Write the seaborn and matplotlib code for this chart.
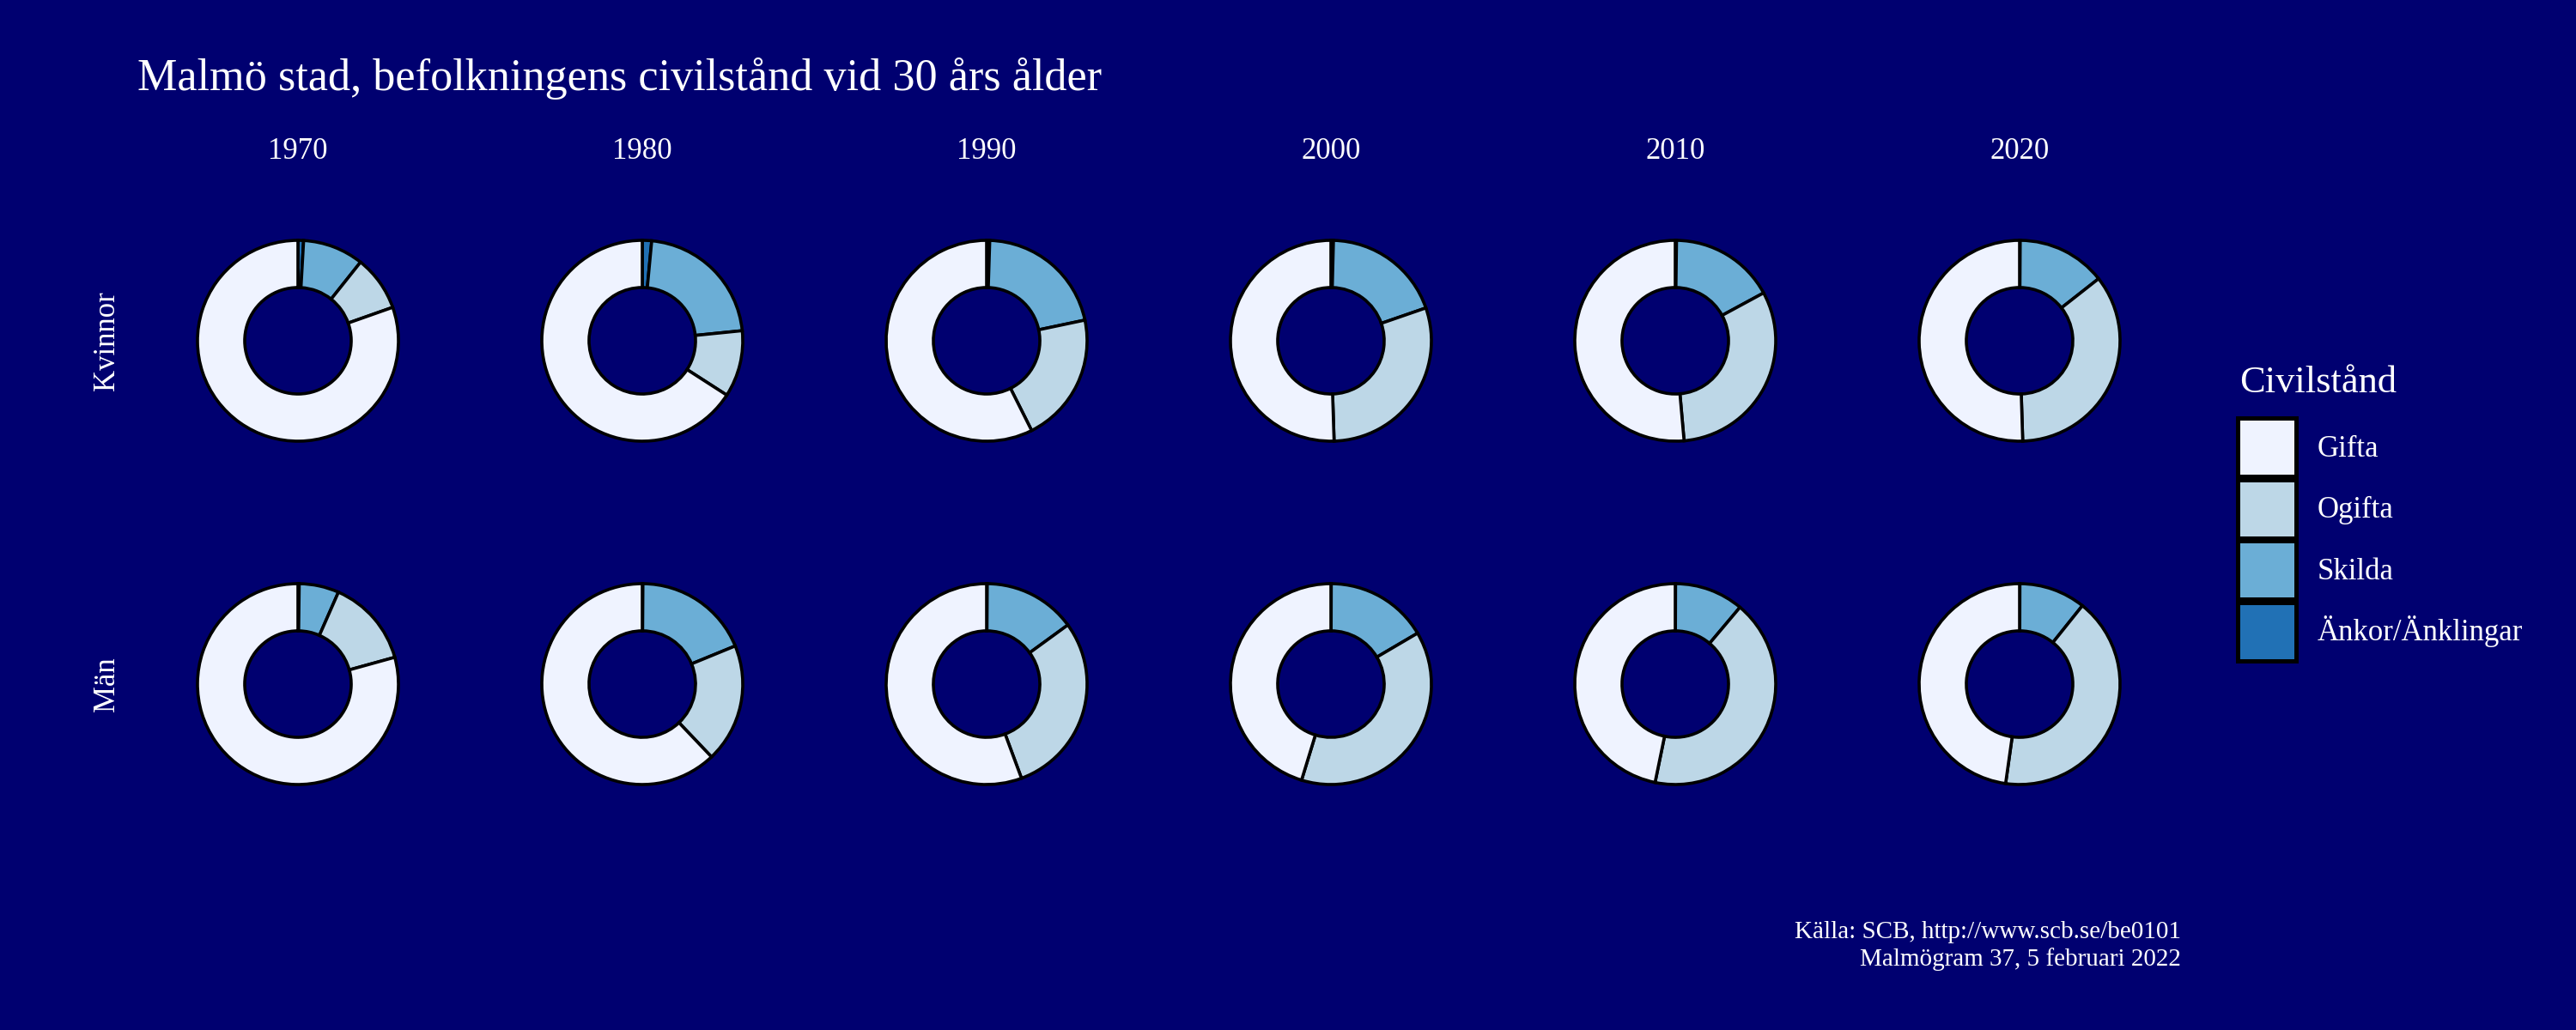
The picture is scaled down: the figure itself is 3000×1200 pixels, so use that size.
import numpy as np
import pandas as pd
import matplotlib
matplotlib.use("Agg")
import matplotlib.pyplot as plt
from matplotlib.patches import Patch
import seaborn as sns

# data (andel i procent)
years = [1970, 1980, 1990, 2000, 2010, 2020]
kategorier = ["Gifta", "Ogifta", "Skilda", "Änkor/Änklingar"]
kvinnor_gifta = [80.4, 65.9, 57.4, 50.5, 51.4, 50.5]
kvinnor_ogifta = [8.9, 10.7, 20.9, 29.8, 31.5, 35.1]
kvinnor_skilda = [9.8, 21.9, 21.2, 19.3, 16.9, 14.3]
kvinnor_ankor = [0.9, 1.5, 0.5, 0.4, 0.2, 0.1]
man_gifta = [79.3, 62.1, 55.7, 45.3, 46.8, 47.8]
man_ogifta = [14.1, 19.1, 29.4, 38.2, 42.1, 41.5]
man_skilda = [6.4, 18.7, 14.9, 16.5, 11.1, 10.7]
man_ankor = [0.2, 0.1, 0.1, 0.05, 0.05, 0.05]
kon = ["Kvinnor", "Män"]

rows = []
for i, y in enumerate(years):
    for k, vals in zip(kategorier, [kvinnor_gifta, kvinnor_ogifta, kvinnor_skilda, kvinnor_ankor]):
        rows.append(("Kvinnor", y, k, vals[i]))
    for k, vals in zip(kategorier, [man_gifta, man_ogifta, man_skilda, man_ankor]):
        rows.append(("Män", y, k, vals[i]))
df = pd.DataFrame(rows, columns=["kon", "ar", "civilstand", "andel"])

bg = "#000070"
sns.set_theme(style="white", rc={"figure.facecolor": bg, "axes.facecolor": bg,
                                 "savefig.facecolor": bg})
plt.rcParams["font.family"] = ["Liberation Serif", "DejaVu Serif"]
farger = sns.color_palette(["#eff3ff", "#bdd7e7", "#6baed6", "#2171b5"])
fargmap = dict(zip(kategorier, farger))

W, H = 3000, 1200
fig = plt.figure(figsize=(15, 6), dpi=200)

# ritordning medurs från kl 12: Änkor, Skilda, Ogifta, Gifta
ordning = ["Änkor/Änklingar", "Skilda", "Ogifta", "Gifta"]
cx0, dx = 347, 401
cy = [397, 797]
half = 150
for r, k in enumerate(kon):
    for c, y in enumerate(years):
        sub = df[(df.kon == k) & (df.ar == y)].set_index("civilstand").loc[ordning]
        x = cx0 + c * dx
        ax = fig.add_axes([(x - half) / W, 1 - (cy[r] + half) / H, 2 * half / W, 2 * half / H])
        ax.pie(sub["andel"], colors=[fargmap[o] for o in ordning], startangle=90,
               counterclock=False, radius=1,
               wedgeprops=dict(width=0.47, edgecolor="black", linewidth=1.3))
        lim = half / 117
        ax.set_xlim(-lim, lim)
        ax.set_ylim(-lim, lim)
        ax.set_facecolor(bg)
        ax.axis("off")
        if r == 0:
            fig.text(x / W, 1 - 176 / H, str(y), color="white", fontsize=12.5,
                     ha="center", va="center")
    fig.text(124 / W, 1 - cy[r] / H, k, color="white", fontsize=12.5,
             rotation=90, ha="center", va="center")

fig.text(160 / W, 1 - 91 / H, "Malmö stad, befolkningens civilstånd vid 30 års ålder",
         color="white", fontsize=18.8, ha="left", va="center")

# legend: titel som egen text
fig.text(2608 / W, 1 - 446 / H, "Civilstånd", color="white", fontsize=16,
         ha="left", va="center")
handles = [Patch(facecolor=fargmap[k], edgecolor="black", linewidth=1.8) for k in kategorier]
leg = fig.legend(handles, kategorier, loc="upper left",
                 bbox_to_anchor=(2606 / W, 1 - 487 / H), frameon=False,
                 fontsize=12.5, labelcolor="white",
                 handlelength=1.96, handleheight=2.64, labelspacing=0.1,
                 handletextpad=0.72, borderpad=0, borderaxespad=0)

fig.text(2540 / W, 1 - 1102 / H, "Källa: SCB, http://www.scb.se/be0101\nMalmögram 37, 5 februari 2022",
         color="white", fontsize=10.5, ha="right", va="center", multialignment="right",
         linespacing=1.2)

plt.savefig("out.png", dpi=200, facecolor=bg)
